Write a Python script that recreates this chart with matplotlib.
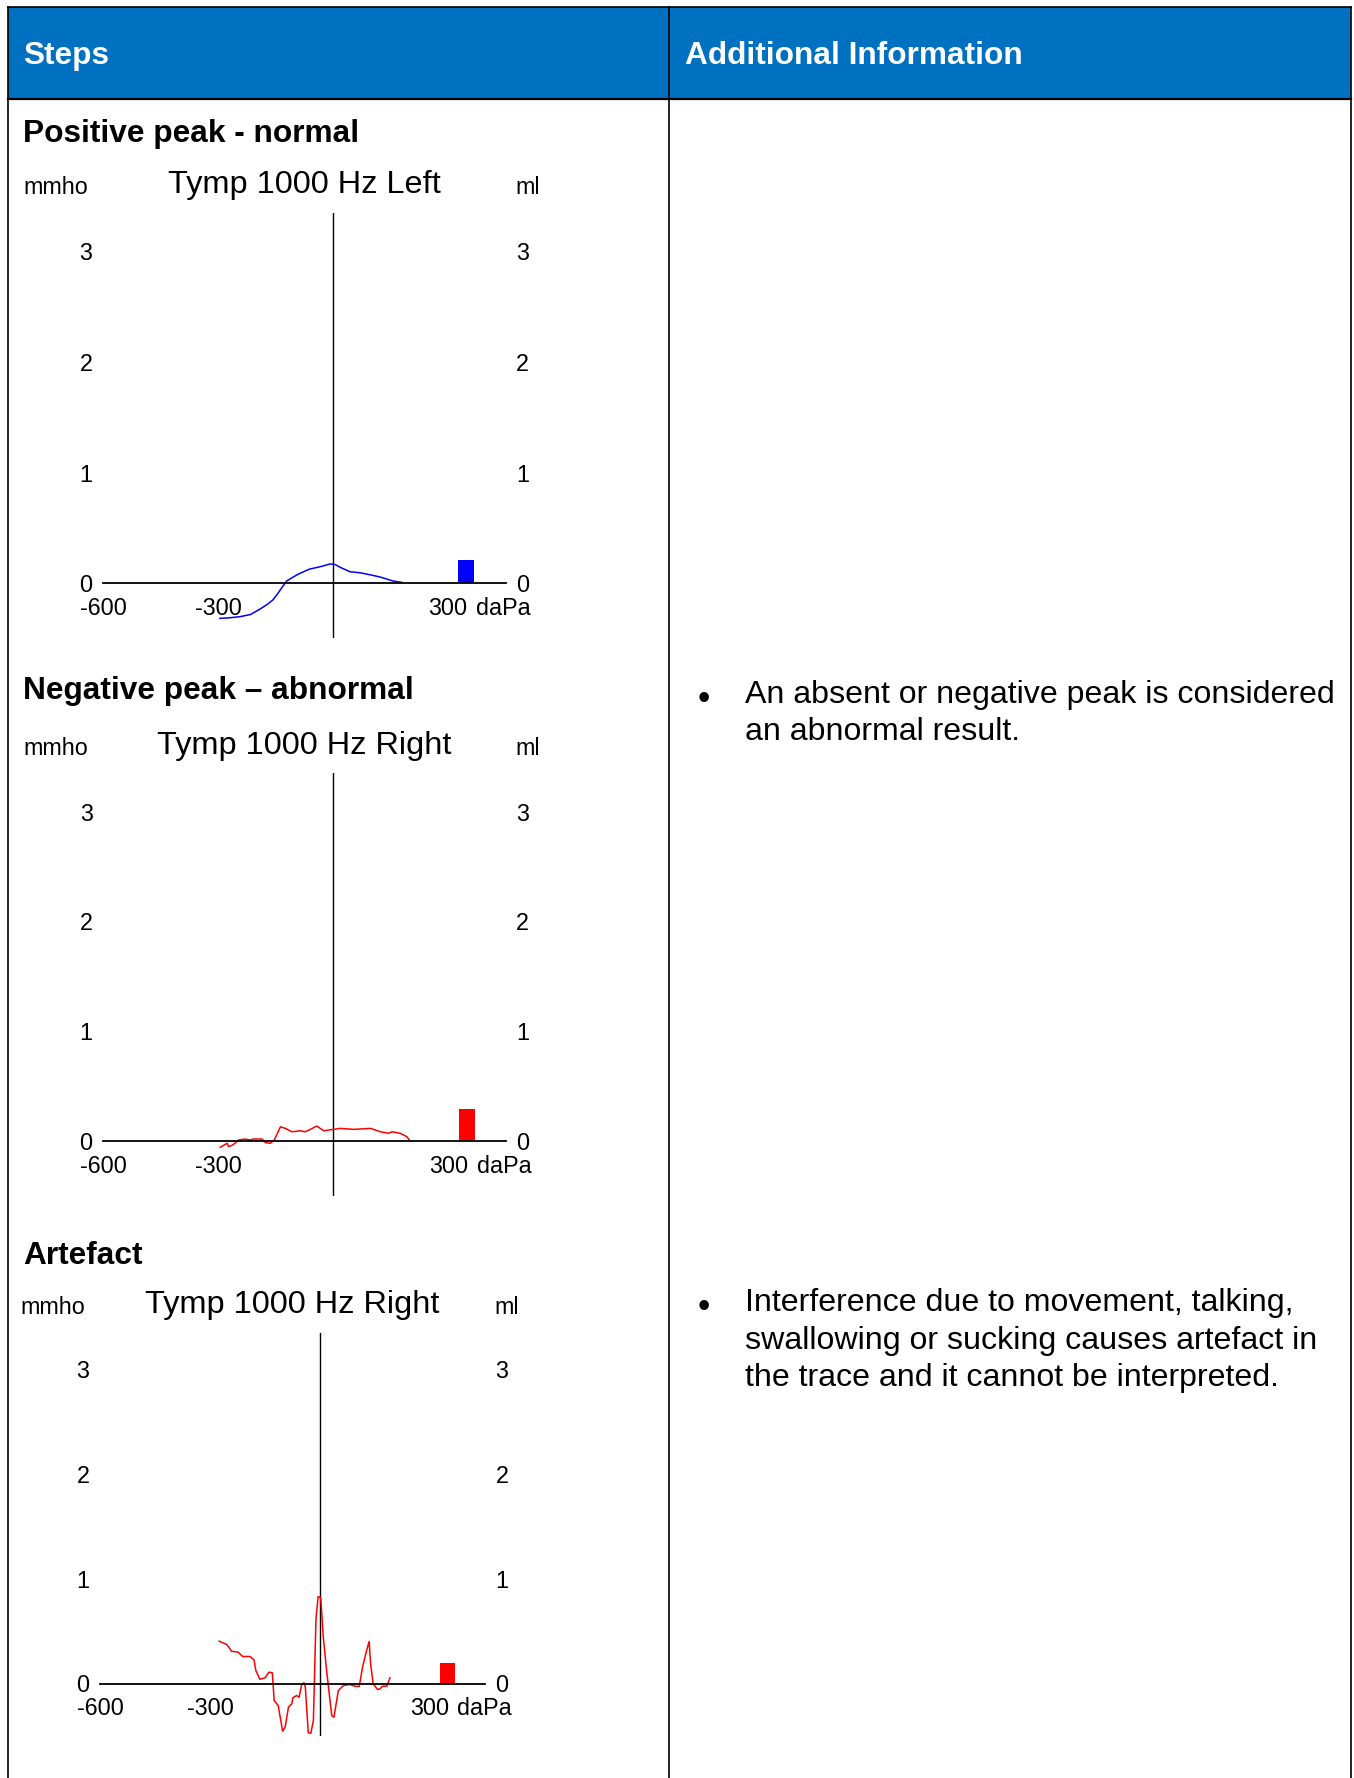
import matplotlib.pyplot as plt
from matplotlib.patches import Rectangle

plt.rcParams['font.family'] = ['Liberation Sans', 'DejaVu Sans']

W, H = 1354, 1778

HEADERS = ['Steps', 'Additional Information']
STEP_TITLES = ['Positive peak - normal', 'Negative peak \u2013 abnormal', 'Artefact']
CHART_TITLES = ['Tymp 1000 Hz Left', 'Tymp 1000 Hz Right', 'Tymp 1000 Hz Right']
NOTES = [
    [],
    ['An absent or negative peak is considered',
     'an abnormal result.'],
    ['Interference due to movement, talking,',
     'swallowing or sucking causes artefact in',
     'the trace and it cannot be interpreted.'],
]

X_TICKS = [-600, -300, 300]
X_LABELS = ['-600', '-300', '300']
Y_TICKS = [0, 1, 2, 3]

# pressure (daPa) and admittance (mmho) for each trace
P_LEFT = [-295, -270, -243, -215, -190, -172, -157, -145, -134, -121, -95, -75,
          -60, -40, -26, -8, 5, 20, 44, 70, 100, 123, 157, 179]
Y_LEFT = [-0.32, -0.315, -0.305, -0.285, -0.235, -0.195, -0.154, -0.100, -0.045,
          0.018, 0.072, 0.105, 0.127, 0.142, 0.154, 0.172, 0.168, 0.140, 0.102,
          0.093, 0.072, 0.054, 0.018, 0.006]

P_NEG = [-295, -277, -273, -262, -247, -230, -217, -208, -186, -177, -164, -154,
         -138, -125, -108, -86, -73, -60, -43, -25, 1, 18, 53, 97, 123, 144,
         153, 175, 192, 198]
Y_NEG = [-0.057, -0.021, -0.051, -0.036, 0.009, 0.018, 0.009, 0.018, 0.018,
         -0.015, -0.021, 0.009, 0.129, 0.115, 0.084, 0.093, 0.084, 0.106, 0.136,
         0.093, 0.106, 0.115, 0.106, 0.115, 0.084, 0.070, 0.084, 0.070, 0.039,
         0.009]

P_ART = [-275, -254, -241, -223, -211, -191, -180, -175, -164, -150, -139, -130,
         -125, -114, -102, -95, -86, -77, -74, -64, -57, -50, -44, -40, -32, -25,
         -18, -11, -5, 2, 9, 18, 32, 38, 50, 64, 82, 95, 107, 116, 127, 134, 138,
         145, 157, 164, 170, 182, 191]
Y_ART = [0.404, 0.372, 0.308, 0.299, 0.258, 0.258, 0.226, 0.124, 0.041, 0.054,
         0.108, 0.102, -0.163, -0.210, -0.455, -0.417, -0.226, -0.194, -0.137,
         -0.115, -0.131, -0.012, 0.007, -0.035, -0.471, -0.475, -0.353, 0.618,
         0.831, 0.819, 0.442, 0.124, -0.306, -0.322, -0.067, -0.019, -0.010,
         -0.026, -0.029, 0.156, 0.315, 0.401, 0.188, -0.003, -0.057, -0.051,
         -0.026, -0.026, 0.054]

TRACES = [(P_LEFT, Y_LEFT), (P_NEG, Y_NEG), (P_ART, Y_ART)]
VOLUMES = [0.21, 0.29, 0.20]      # ear canal volume, ml
COLORS = ['#0000ff', '#ff0000', '#ff0000']
BAR_P, BAR_W = 348, 42

# pixel position of (0 daPa, 0 mmho) and pixels per daPa / per mmho
PANELS = [(333, 115 / 300, 583, 110.5),
          (333.3, 115 / 300, 1141, 109.8),
          (320, 110 / 300, 1683.5, 104.7)]
HEAD_BASE = [142, 699, 1264]
NOTE_BASE = [None, 703, 1311]
XMIN, XMAX, YMIN, YMAX = -600, 450, -0.5, 3.35

BLUE = '#0070C0'
WORD_FS = 22.8
NOTE_FS = 23.1
SMALL_FS = 16.8
TITLE_FS = 23.4

fig = plt.figure(figsize=(W / 100, H / 100), dpi=100)

# table frame drawn in pixel coordinates
bg = fig.add_axes([0, 0, 1, 1])
bg.set_xlim(0, W)
bg.set_ylim(H, 0)
bg.axis('off')
bg.add_patch(Rectangle((7.5, 7), 1351 - 7.5, 92, fc=BLUE, ec='none'))
bg.plot([7.5, 1351], [7, 7], color='k', lw=1.2)
bg.plot([7.5, 1351], [99, 99], color='k', lw=1.6)
for xv in (7.5, 669, 1351):
    bg.plot([xv, xv], [7, H], color='k', lw=1.2)

bg.text(23, 64, HEADERS[0], color='white', fontsize=WORD_FS, fontweight='bold', va='baseline')
bg.text(685, 64, HEADERS[1], color='white', fontsize=WORD_FS, fontweight='bold', va='baseline')

for i in range(3):
    bg.text(23, HEAD_BASE[i], STEP_TITLES[i], fontsize=WORD_FS, fontweight='bold', va='baseline')
    if NOTE_BASE[i] is not None:
        bg.text(704, NOTE_BASE[i] - 4, '\u2022', fontsize=NOTE_FS + 2, ha='center', va='center')
        for k, line in enumerate(NOTES[i]):
            bg.text(745, NOTE_BASE[i] + 37.5 * k, line, fontsize=NOTE_FS, va='baseline')


def tymp(n):
    zx, sx, zy, sy = PANELS[n]
    left = zx + XMIN * sx
    right = zx + XMAX * sx
    top = zy - YMAX * sy
    bottom = zy - YMIN * sy
    ax = fig.add_axes([left / W, 1 - bottom / H, (right - left) / W, (bottom - top) / H])
    ax.set_xlim(XMIN, XMAX)
    ax.set_ylim(YMIN, YMAX)
    ax.patch.set_visible(False)
    for s in ('top', 'right', 'left'):
        ax.spines[s].set_visible(False)
    ax.spines['bottom'].set_position(('data', 0))
    ax.spines['bottom'].set_linewidth(1.3)
    ax.axvline(0, color='k', lw=1.0)

    p, y = TRACES[n]
    ax.plot(p, y, color=COLORS[n], lw=1.1)
    ax.bar(BAR_P, VOLUMES[n], width=BAR_W, color=COLORS[n])

    ax.set_xticks(X_TICKS)
    ax.set_xticklabels(X_LABELS)
    ax.set_yticks(Y_TICKS)
    ax.tick_params(axis='x', length=0, pad=9.8, labelsize=SMALL_FS)
    ax.tick_params(axis='y', length=0, pad=7.6, labelsize=SMALL_FS,
                   labelleft=True, labelright=True)
    ax.annotate('daPa', xy=(374, 0), xytext=(0, -9.8), textcoords='offset points',
                ha='left', va='top', fontsize=SMALL_FS)
    ax.set_title(CHART_TITLES[n], fontsize=TITLE_FS, pad=14)

    bg.text(left - 80, top - 25, 'mmho', fontsize=SMALL_FS, va='center')
    bg.text(right + 9.5, top - 25, 'ml', fontsize=SMALL_FS, va='center')


for n in range(3):
    tymp(n)

fig.savefig('out.png', dpi=100)
